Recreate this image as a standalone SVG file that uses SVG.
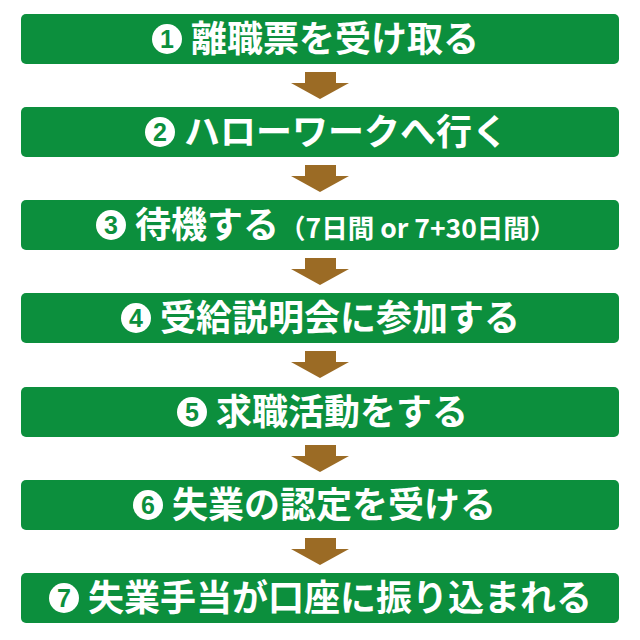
<svg xmlns="http://www.w3.org/2000/svg" width="640" height="640" viewBox="0 0 640 640">
<style>
.box{fill:#0c8f3d}
.arr{fill:#9b6b25}
.t{font-family:"Noto Sans CJK JP","Noto Sans",sans-serif;font-weight:bold;font-size:36px;fill:#ffffff}
.s{font-size:26.5px}
.c{fill:#ffffff}
.n{font-family:"Liberation Sans","Noto Sans",sans-serif;font-weight:bold;font-size:25px;fill:#0c8f3d;text-anchor:middle}
</style>
<rect width="640" height="640" fill="#ffffff"/>
<g id="connectors">
<rect class="arr" x="305" y="72" width="31" height="12"/><polygon class="arr" points="291,83 349,83 320,99"/>
<rect class="arr" x="305" y="165" width="31" height="12"/><polygon class="arr" points="291,176 349,176 320,192"/>
<rect class="arr" x="305" y="258" width="31" height="12"/><polygon class="arr" points="291,269 349,269 320,285"/>
<rect class="arr" x="305" y="351" width="31" height="12"/><polygon class="arr" points="291,362 349,362 320,378"/>
<rect class="arr" x="305" y="445" width="31" height="12"/><polygon class="arr" points="291,456 349,456 320,472"/>
<rect class="arr" x="305" y="538" width="31" height="12"/><polygon class="arr" points="291,549 349,549 320,565"/>
</g>
<g id="step1">
<rect class="box" x="21" y="14" width="598" height="50" rx="5"/>
<circle class="c" cx="167" cy="39" r="15"/><text class="n" x="167" y="48">1</text>
<text class="t" x="191" y="52">離職票を受け取る</text>
</g>
<g id="step2">
<rect class="box" x="21" y="107" width="598" height="50" rx="5"/>
<circle class="c" cx="160" cy="132" r="15"/><text class="n" x="160" y="141">2</text>
<text class="t" x="184" y="145">ハローワークへ行く</text>
</g>
<g id="step3">
<rect class="box" x="21" y="200" width="598" height="50" rx="5"/>
<circle class="c" cx="111" cy="225" r="15"/><text class="n" x="111" y="234">3</text>
<text class="t" x="135" y="238">待機する<tspan class="s">（7日間 or 7+30日間）</tspan></text>
</g>
<g id="step4">
<rect class="box" x="21" y="293" width="598" height="50" rx="5"/>
<circle class="c" cx="136" cy="318" r="15"/><text class="n" x="136" y="327">4</text>
<text class="t" x="160" y="331">受給説明会に参加する</text>
</g>
<g id="step5">
<rect class="box" x="21" y="387" width="598" height="50" rx="5"/>
<circle class="c" cx="192" cy="412" r="15"/><text class="n" x="192" y="421">5</text>
<text class="t" x="216" y="425">求職活動をする</text>
</g>
<g id="step6">
<rect class="box" x="21" y="480" width="598" height="50" rx="5"/>
<circle class="c" cx="148" cy="505" r="15"/><text class="n" x="148" y="514">6</text>
<text class="t" x="172" y="518">失業の認定を受ける</text>
</g>
<g id="step7">
<rect class="box" x="21" y="573" width="598" height="50" rx="5"/>
<circle class="c" cx="64" cy="598" r="15"/><text class="n" x="64" y="607">7</text>
<text class="t" x="88" y="611">失業手当が口座に振り込まれる</text>
</g>
</svg>
